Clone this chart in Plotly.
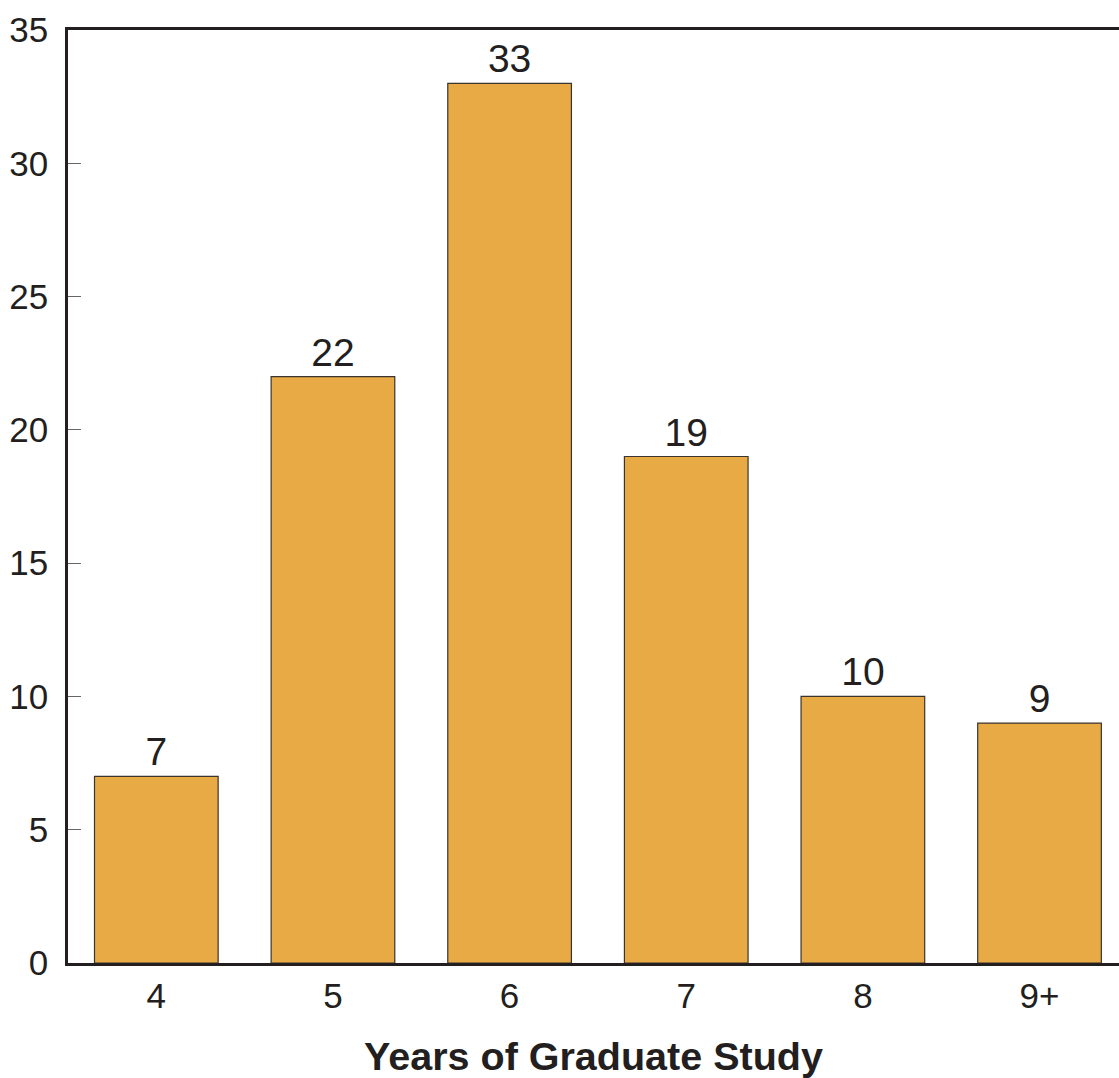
import plotly.graph_objects as go

categories = ["4", "5", "6", "7", "8", "9+"]
values = [7, 22, 33, 19, 10, 9]
y_ticks = [0, 5, 10, 15, 20, 25, 30, 35]
x_title = "Years of Graduate Study"

TEXT = "#231f20"
FONT = "Liberation Sans, Arial, Helvetica, sans-serif"

fig = go.Figure(
    go.Bar(
        x=categories,
        y=values,
        width=0.7,
        marker=dict(color="#e8aa45", line=dict(color="#3a3430", width=1.2)),
        text=[str(v) for v in values],
        textposition="outside",
        textfont=dict(size=39, color=TEXT, family=FONT),
        cliponaxis=False,
        hoverinfo="skip",
    )
)

fig.update_layout(
    width=1119,
    height=1078,
    margin=dict(l=68, r=0, t=30, b=115),
    paper_bgcolor="white",
    plot_bgcolor="white",
    showlegend=False,
    font=dict(family=FONT, color=TEXT),
    xaxis=dict(
        type="category",
        range=[-0.5, 5.45],
        showline=True,
        linecolor=TEXT,
        linewidth=2.5,
        mirror=True,
        showgrid=False,
        ticks="",
        tickfont=dict(size=35, color=TEXT, family=FONT),
        title=dict(text="<b>" + x_title + "</b>", font=dict(size=39.5, color=TEXT, family=FONT), standoff=32),
        automargin=False,
        fixedrange=True,
    ),
    yaxis=dict(
        range=[0, 35],
        tickvals=y_ticks,
        showline=True,
        linecolor=TEXT,
        linewidth=2.5,
        showgrid=False,
        zeroline=False,
        ticks="inside",
        ticklen=13,
        tickwidth=1.2,
        tickcolor="#666666",
        tickfont=dict(size=35, color=TEXT, family=FONT),
        ticklabelstandoff=10,
        automargin=False,
        fixedrange=True,
    ),
)

fig.write_html(
    "out.html",
    config={"displayModeBar": False},
    post_script="document.body.style.margin='0';document.body.style.overflow='hidden';",
)
